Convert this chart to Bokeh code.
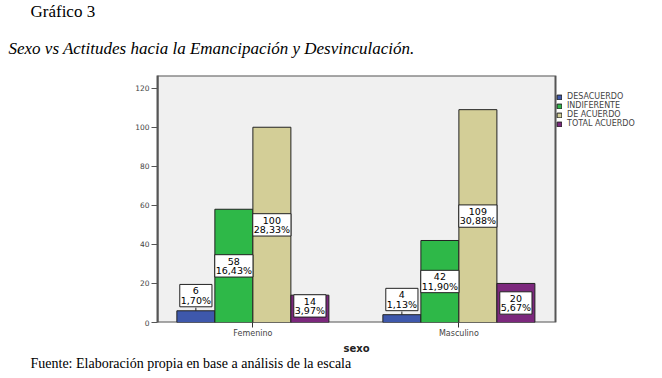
from bokeh.plotting import figure
from bokeh.models import (Range1d, FixedTicker, Legend, LegendItem,
                          ColumnDataSource, Title)
from bokeh.core.properties import value
from bokeh.embed import file_html
from bokeh.resources import INLINE

# ---- data ----
categories = ["Femenino", "Masculino"]
series_names = ["DESACUERDO", "INDIFERENTE", "DE ACUERDO", "TOTAL ACUERDO"]
desacuerdo = [6, 4]
indiferente = [58, 42]
de_acuerdo = [100, 109]
total_acuerdo = [14, 20]
y_ticks = [0, 20, 40, 60, 80, 100, 120]
title_text = "Gráfico 3"
subtitle_text = "Sexo vs Actitudes hacia la Emancipación y Desvinculación."
source_text = "Fuente: Elaboración propia en base a análisis de la escala"
axis_title = "sexo"

series_values = [desacuerdo, indiferente, de_acuerdo, total_acuerdo]
colors = ["#3E58AC", "#2EB848", "#D3CE97", "#7C287D"]
total_n = sum(sum(s) for s in series_values)

SANS = "DejaVu Sans"
SERIF = "Liberation Serif"

# plotting area (grey panel) limits; the canvas frame extends right for the legend
plot_x_min, plot_x_max = -0.463, 1.469
y_max = 126.5
x_end = plot_x_min + (662 - 157) * (plot_x_max - plot_x_min) / 398

p = figure(width=662, height=378, output_backend="svg", toolbar_location=None,
           x_range=Range1d(plot_x_min, x_end), y_range=Range1d(0, y_max),
           min_border_left=157, min_border_right=0, min_border_top=75,
           min_border_bottom=56)
p.background_fill_color = "white"
p.border_fill_color = "white"
p.outline_line_color = None
p.xgrid.visible = False
p.ygrid.visible = False

p.quad(left=[plot_x_min], right=[plot_x_max], bottom=[0], top=[y_max],
       fill_color="#F0F0F0", line_color="#555555", line_width=2)

bw = 0.1845
offsets = [-1.5 * bw, -0.5 * bw, 0.5 * bw, 1.5 * bw]
xs_base = list(range(len(categories)))

renderers = []
lab_x, lab_y, lab_t = [], [], []
top_x, top_y, top_t = [], [], []
for name, vals, col, off in zip(series_names, series_values, colors, offsets):
    xs = [x + off for x in xs_base]
    src = ColumnDataSource(dict(x=xs, top=vals))
    r = p.vbar(x="x", top="top", width=bw, source=src, fill_color=col,
               line_color="#222222", line_width=1)
    renderers.append(r)
    for x, v in zip(xs, vals):
        txt = f"{v}\n{v / total_n * 100:.2f}%".replace(".", ",")
        if v < 10:
            top_x.append(x); top_y.append(v); top_t.append(txt)
        else:
            lab_x.append(x); lab_y.append(max(v / 2, 8.5)); lab_t.append(txt)

common = dict(text_font=value(SANS), text_font_size="9.5px", text_color="black",
              text_align="center", text_line_height=0.85,
              background_fill_color="white", border_line_color="#222222",
              border_line_width=1, padding=1)
p.text(x=lab_x, y=lab_y, text=lab_t, text_baseline="middle", **common)
p.segment(x0=top_x, y0=top_y, x1=top_x, y1=[v + 1.6 for v in top_y],
          line_color="#222222", line_width=1)
p.text(x=top_x, y=top_y, text=top_t, text_baseline="bottom", y_offset=-4,
       **common)

p.yaxis.ticker = FixedTicker(ticks=y_ticks)
p.yaxis.minor_tick_line_color = None
p.yaxis.major_tick_out = 6
p.yaxis.major_tick_in = 0
p.yaxis.major_tick_line_color = "#555555"
p.yaxis.axis_line_color = "#555555"
p.yaxis.axis_line_width = 2
p.yaxis.major_label_text_font = SANS
p.yaxis.major_label_text_font_size = "7.5px"
p.yaxis.major_label_standoff = 2

p.xaxis.ticker = FixedTicker(ticks=xs_base)
p.xaxis.major_label_overrides = {i: c for i, c in enumerate(categories)}
p.xaxis.minor_tick_line_color = None
p.xaxis.major_tick_out = 5
p.xaxis.major_tick_in = 0
p.xaxis.major_tick_line_color = "#333333"
p.xaxis.axis_line_color = None
p.xaxis.major_label_text_font = SANS
p.xaxis.major_label_text_font_size = "8px"
p.xaxis.major_label_standoff = 1

# one legend per entry, stacked to the right of the grey panel
for i, (name, r) in enumerate(zip(series_names, renderers)):
    lg = Legend(items=[LegendItem(label=name, renderers=[r])],
                location=(399, 221 - 9 * i), orientation="vertical",
                label_text_font=SANS, label_text_font_size="8px",
                glyph_width=6, glyph_height=6, label_height=8,
                label_standoff=5, spacing=0, padding=0, margin=0,
                border_line_color=None, background_fill_alpha=0)
    p.add_layout(lg, "center")

p.add_layout(Title(text=subtitle_text, align="left", offset=-149, standoff=35,
                   text_font=SERIF, text_font_size="17px",
                   text_font_style="italic", text_color="black"), "above")
p.add_layout(Title(text=title_text, align="left", offset=-127, standoff=-3,
                   text_font=SERIF, text_font_size="17px",
                   text_font_style="normal", text_color="black"), "above")
p.add_layout(Title(text=axis_title, align="left", offset=186, standoff=0,
                   text_font=SANS, text_font_size="10px",
                   text_font_style="bold", text_color="#222222"), "below")
p.add_layout(Title(text=source_text, align="left", offset=-127, standoff=0,
                   text_font=SERIF, text_font_size="14px",
                   text_font_style="normal", text_color="black"), "below")

open("out.html", "w").write(file_html(p, INLINE))
